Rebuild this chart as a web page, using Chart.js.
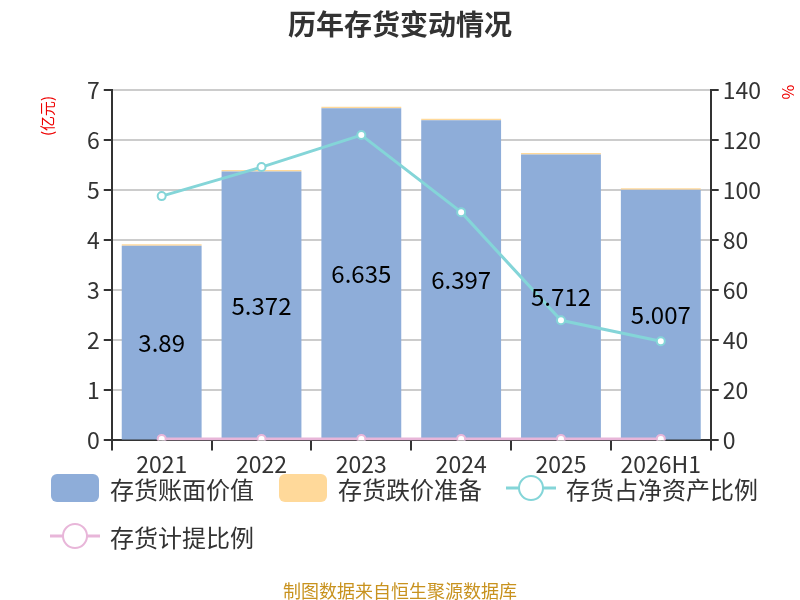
<!DOCTYPE html>
<html>
<head>
<meta charset="utf-8">
<script src="https://cdn.jsdelivr.net/npm/chart.js@4/dist/chart.umd.min.js"></script>
<style>
  body{margin:0;background:#fff;font-family:"Noto Sans CJK SC","Noto Sans",sans-serif;}
  #wrap{position:relative;width:800px;height:600px;}
  #title{position:absolute;left:0;top:3px;width:800px;text-align:center;font-size:28px;font-weight:bold;color:#333;}
  #legend{position:absolute;left:50px;top:464px;width:745px;display:flex;flex-wrap:wrap;font-size:24px;color:#333;}
  .item{display:flex;align-items:center;height:48px;margin-right:24px;}
  .item span{margin-left:10px;}
  #foot{position:absolute;left:0;top:577px;width:800px;text-align:center;font-size:18px;color:#c8921e;}
</style>
</head>
<body>
<div id="wrap">
  <canvas id="myChart" width="800" height="600"></canvas>
  <div id="title">历年存货变动情况</div>
  <div id="legend"></div>
  <div id="foot">制图数据来自恒生聚源数据库</div>
</div>
<script>
const years = ['2021','2022','2023','2024','2025','2026H1'];
const bookValue = [3.89, 5.372, 6.635, 6.397, 5.712, 5.007];
const impairment = [0.03, 0.03, 0.03, 0.03, 0.03, 0.03];
const netAssetRatio = [97.6, 109.2, 122, 91.2, 48, 39.6];
const provisionRatio = [0.6, 0.6, 0.6, 0.6, 0.6, 0.6];

const blue = '#8eadd9', orange = '#ffd99a', teal = '#84d5d8', pink = '#e8b6d9';

// labels in the middle of the blue bars + red axis units
const extras = {
    id:'extras',
    afterDatasetsDraw(chart){
        let ctx = chart.ctx;
        let meta = chart.getDatasetMeta(0);
        ctx.save();
        ctx.font = '24px "Noto Sans CJK SC"';
        ctx.fillStyle = '#000';
        ctx.textAlign = 'center';
        ctx.textBaseline = 'middle';
        meta.data.forEach((bar,i)=>{
            ctx.fillText(String(bookValue[i]), bar.x, (bar.y+bar.base)/2);
        });
        ctx.fillStyle = '#e00';
        ctx.font = '15px "Noto Sans CJK SC"';
        ctx.translate(47,116);
        ctx.rotate(-Math.PI/2);
        ctx.fillText('(亿元)',0,0);
        ctx.restore();
        ctx.save();
        ctx.fillStyle = '#e00';
        ctx.font = '16px "Noto Sans CJK SC"';
        ctx.textAlign = 'center';
        ctx.textBaseline = 'middle';
        ctx.translate(788,92);
        ctx.rotate(Math.PI/2);
        ctx.fillText('%',0,0);
        ctx.restore();
    }
};

var ctx = document.getElementById('myChart').getContext('2d');
var myChart = new Chart(ctx, {
    data: {
        labels: years,
        datasets: [
            {type:'bar', label:'存货账面价值', data:bookValue, backgroundColor:blue, stack:'s', yAxisID:'y', order:3, categoryPercentage:1, barPercentage:0.8},
            {type:'bar', label:'存货跌价准备', data:impairment, backgroundColor:orange, stack:'s', yAxisID:'y', order:3, categoryPercentage:1, barPercentage:0.8},
            {type:'line', label:'存货占净资产比例', data:netAssetRatio, borderColor:teal, borderWidth:3, pointRadius:4, pointBorderWidth:2, pointBackgroundColor:'#fff', pointBorderColor:teal, yAxisID:'y1', order:1},
            {type:'line', label:'存货计提比例', data:provisionRatio, borderColor:pink, borderWidth:3, pointRadius:4, pointBorderWidth:2, pointBackgroundColor:'#fff', pointBorderColor:pink, yAxisID:'y1', order:2}
        ]
    },
    options: {
        responsive:false,
        animation:false,
        layout:{padding:{left:83, right:35, top:90, bottom:122}},
        plugins:{
            legend:{display:false},
            tooltip:{enabled:false},
            title:{display:false}
        },
        scales:{
            x:{
                stacked:true,
                grid:{offset:true, drawOnChartArea:false, tickColor:'#333', tickLength:10, lineWidth:2},
                border:{color:'#333', width:2},
                ticks:{color:'#333', font:{size:23, family:'"Noto Sans CJK SC"'}, padding:0, maxRotation:0, autoSkip:false}
            },
            y:{
                stacked:true, min:0, max:7,
                ticks:{stepSize:1, color:'#333', font:{size:23, family:'"Noto Sans CJK SC"'}, padding:4},
                grid:{color:'#ccc', lineWidth:2, tickColor:'#333', tickLength:8},
                border:{color:'#333', width:2}
            },
            y1:{
                position:'right', min:0, max:140,
                ticks:{stepSize:20, color:'#333', font:{size:23, family:'"Noto Sans CJK SC"'}, padding:4},
                grid:{drawOnChartArea:false, tickColor:'#333', tickLength:8, lineWidth:2},
                border:{color:'#333', width:2}
            }
        }
    },
    plugins:[extras]
});

// html legend
function swatch(ds){
    let c = document.createElement('canvas');
    c.width = 50; c.height = 30;
    let g = c.getContext('2d');
    if(ds.type==='bar'){
        g.fillStyle = ds.backgroundColor;
        g.beginPath();
        g.roundRect(1,1,48,28,6);
        g.fill();
    }else{
        g.strokeStyle = ds.borderColor;
        g.lineWidth = 3;
        g.beginPath(); g.moveTo(0,15); g.lineTo(50,15); g.stroke();
        g.fillStyle = '#fff';
        g.lineWidth = 2;
        g.beginPath(); g.arc(25,15,12,0,Math.PI*2); g.fill(); g.stroke();
    }
    return c;
}
let legend = document.getElementById('legend');
myChart.data.datasets.forEach(ds=>{
    let it = document.createElement('div');
    it.className = 'item';
    it.appendChild(swatch(ds));
    let s = document.createElement('span');
    s.textContent = ds.label;
    it.appendChild(s);
    legend.appendChild(it);
});
</script>
</body>
</html>
